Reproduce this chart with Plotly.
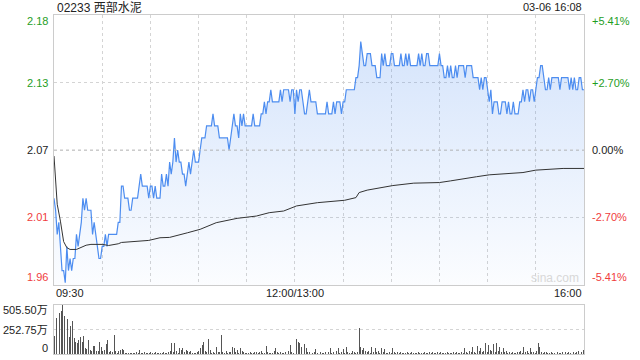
import plotly.graph_objects as go

prev_close = 2.07
title_text = "02233 西部水泥"
time_text = "03-06 16:08"
pct_levels = [5.41, 2.70, 0.00, -2.70, -5.41]
time_labels = ["09:30", "12:00/13:00", "16:00"]
time_label_minutes = [0, 150, 330]

prices = [
    2.03, 2.02, 2.00, 2.01, 1.99, 1.97, 1.97, 1.96, 1.99, 1.97,
    1.98, 1.97, 1.98, 1.98, 2.00, 1.99, 2.00, 2.01, 2.03, 2.02,
    2.03, 2.02, 2.02, 2.02, 2.00, 2.01, 2.00, 1.99, 1.98, 1.98,
    1.99, 1.99, 2.00, 1.99, 2.00, 2.00, 2.00, 2.00, 2.00, 2.00,
    2.01, 2.01, 2.04, 2.04, 2.03, 2.03, 2.03, 2.02, 2.02, 2.03,
    2.03, 2.03, 2.03, 2.04, 2.05, 2.04, 2.04, 2.04, 2.04, 2.03,
    2.04, 2.04, 2.03, 2.04, 2.03, 2.03, 2.03, 2.05, 2.04, 2.04,
    2.05, 2.04, 2.06, 2.05, 2.06, 2.08, 2.06, 2.07, 2.06, 2.06,
    2.05, 2.05, 2.04, 2.05, 2.06, 2.05, 2.06, 2.07, 2.06, 2.06,
    2.06, 2.07, 2.08, 2.08, 2.08, 2.09, 2.09, 2.09, 2.09, 2.10,
    2.09, 2.09, 2.09, 2.08, 2.08, 2.08, 2.08, 2.08, 2.08, 2.07,
    2.08, 2.09, 2.10, 2.09, 2.09, 2.08, 2.10, 2.09, 2.10, 2.09,
    2.09, 2.09, 2.09, 2.09, 2.10, 2.09, 2.09, 2.09, 2.09, 2.10,
    2.10, 2.11, 2.10, 2.11, 2.11, 2.12, 2.11, 2.11, 2.11, 2.11,
    2.11, 2.12, 2.11, 2.12, 2.12, 2.12, 2.12, 2.11, 2.12, 2.12,
    2.10, 2.12, 2.11, 2.12, 2.12, 2.11, 2.10, 2.10, 2.11, 2.12,
    2.11, 2.11, 2.11, 2.11, 2.10, 2.10, 2.10, 2.10, 2.10, 2.10,
    2.11, 2.10, 2.10, 2.10, 2.11, 2.10, 2.11, 2.11, 2.11, 2.10,
    2.11, 2.11, 2.12, 2.12, 2.12, 2.12, 2.12, 2.12, 2.13, 2.13,
    2.14, 2.16, 2.15, 2.14, 2.14, 2.15, 2.15, 2.15, 2.14, 2.14,
    2.14, 2.13, 2.13, 2.13, 2.15, 2.14, 2.15, 2.14, 2.14, 2.14,
    2.15, 2.15, 2.14, 2.14, 2.14, 2.14, 2.15, 2.14, 2.14, 2.15,
    2.14, 2.15, 2.14, 2.14, 2.14, 2.14, 2.14, 2.15, 2.14, 2.15,
    2.14, 2.14, 2.15, 2.15, 2.14, 2.14, 2.14, 2.14, 2.14, 2.14,
    2.15, 2.14, 2.14, 2.13, 2.13, 2.14, 2.13, 2.14, 2.13, 2.13,
    2.14, 2.13, 2.14, 2.14, 2.14, 2.14, 2.13, 2.14, 2.14, 2.14,
    2.14, 2.13, 2.13, 2.13, 2.13, 2.12, 2.13, 2.12, 2.13, 2.13,
    2.12, 2.11, 2.12, 2.10, 2.11, 2.11, 2.11, 2.10, 2.10, 2.11,
    2.11, 2.11, 2.10, 2.11, 2.10, 2.10, 2.11, 2.10, 2.10, 2.10,
    2.11, 2.11, 2.12, 2.11, 2.12, 2.12, 2.11, 2.12, 2.12, 2.11,
    2.12, 2.13, 2.13, 2.14, 2.14, 2.13, 2.12, 2.12, 2.13, 2.12,
    2.13, 2.13, 2.13, 2.13, 2.13, 2.12, 2.13, 2.13, 2.13, 2.13,
    2.13, 2.12, 2.13, 2.12, 2.13, 2.12, 2.12, 2.13, 2.13, 2.12,
    2.12,
]

avg_minutes = [0, 2, 4, 6, 8, 10, 14, 17, 20, 23, 30, 34, 40, 42, 51, 59,
               66, 72, 83, 91, 101, 114, 126, 134, 143, 151, 164, 172, 181,
               188, 190, 195, 203, 211, 224, 240, 247, 255, 263, 271, 284,
               292, 300, 317, 330]
avg_values = [2.065, 2.025, 2.011, 1.994, 1.989, 1.9875, 1.9875, 1.9894,
              1.991, 1.9917, 1.9917, 1.9908, 1.9922, 1.9933, 1.9944, 1.995,
              1.9972, 1.9975, 2.0013, 2.0042, 2.0097, 2.0133, 2.0152, 2.018,
              2.0194, 2.0236, 2.0263, 2.0272, 2.0283, 2.0305, 2.0347, 2.0367,
              2.0389, 2.0405, 2.0425, 2.043, 2.0444, 2.0458, 2.0478, 2.0494,
              2.0505, 2.0513, 2.0533, 2.0547, 2.0547]

volumes = [
    185, 370, 300, 420, 440, 505.5, 390, 380, 365, 180,
    285, 345, 160, 125, 110, 145, 180, 125, 185, 60,
    50, 140, 40, 35, 80, 85, 30, 35, 125, 75,
    30, 40, 100, 145, 25, 30, 20, 195, 30, 15,
    35, 45, 50, 45, 15, 10, 8, 12, 6, 10,
    14, 22, 9, 41, 12, 8, 18, 10, 7, 15,
    20, 9, 12, 25, 8, 14, 10, 6, 18, 11,
    9, 16, 28, 117, 20, 110, 35, 12, 62, 45,
    58, 22, 40, 30, 18, 26, 10, 14, 8, 20,
    35, 65, 93, 127, 30, 20, 151, 41, 15, 25,
    12, 76, 20, 18, 196, 22, 14, 30, 10, 18,
    25, 76, 58, 20, 41, 12, 58, 30, 16, 10,
    8, 14, 20, 12, 9, 16, 25, 12, 18, 30,
    10, 15, 82, 20, 12, 9, 14, 30, 58, 16,
    10, 22, 14, 8, 18, 25, 35, 93, 20, 12,
    40, 151, 127, 110, 76, 30, 103, 58, 20, 16,
    41, 12, 20, 48, 15, 10, 22, 8, 14, 18,
    12, 25, 58, 14, 20, 9, 30, 58, 15, 22,
    48, 12, 76, 20, 10, 14, 30, 18, 12, 25,
    265, 76, 40, 58, 30, 20, 35, 14, 76, 25,
    58, 18, 30, 12, 58, 20, 48, 15, 10, 22,
    14, 58, 20, 12, 25, 9, 16, 10, 14, 8,
    20, 12, 9, 18, 10, 15, 8, 22, 12, 9,
    14, 20, 10, 8, 16, 12, 25, 9, 14, 18,
    10, 22, 12, 8, 15, 20, 9, 14, 11, 18,
    12, 20, 9, 15, 25, 14, 58, 20, 12, 30,
    18, 76, 25, 14, 82, 30, 58, 20, 35, 110,
    25, 93, 40, 30, 103, 20, 117, 35, 76, 22,
    58, 18, 30, 14, 22, 12, 20, 9, 15, 25,
    18, 30, 14, 76, 20, 35, 12, 58, 18, 25,
    14, 30, 117, 76, 20, 12, 18, 25, 10, 15,
    20, 12, 9, 16, 25, 10, 14, 20, 8, 18,
    12, 25, 10, 14, 20, 9, 16, 30, 34, 18,
    41,
]

minutes = list(range(len(prices)))
vol_minutes = list(range(len(volumes)))
total_minutes = 330

# ---- layout geometry (pixels) ----
W, H = 640, 360
L, R = 54, 584
MT, MB = 15, 285
VT, VB = 305, 354


def fx(p):
    return p / W


def fy(p):
    return 1 - p / H


FONT = "Liberation Sans, Arial, Helvetica, sans-serif"
GREEN = "#1f9e1f"
RED = "#f03c3c"
DARK = "#222222"
BORDER = "#cccccc"
GRID = "#d4d4d4"

ymin = prev_close * (1 - pct_levels[0] / 100)
ymax = prev_close * (1 + pct_levels[0] / 100)
level_prices = [prev_close * (1 + p / 100) for p in pct_levels]

vmax = max(volumes)
vol_ticks = [vmax, vmax / 2, 0]

fig = go.Figure()

fig.add_trace(go.Scatter(
    x=minutes, y=prices, mode="lines",
    line=dict(color="#4d8df0", width=1.2),
    fill="tozeroy",
    fillgradient=dict(
        type="vertical",
        colorscale=[[0, "rgba(77,141,240,0.02)"], [1, "rgba(77,141,240,0.26)"]],
        start=ymin, stop=ymax,
    ),
    xaxis="x", yaxis="y", hoverinfo="skip",
))

fig.add_trace(go.Scatter(
    x=avg_minutes, y=avg_values, mode="lines",
    line=dict(color="#333333", width=1),
    xaxis="x", yaxis="y", hoverinfo="skip",
))

fig.add_trace(go.Bar(
    x=vol_minutes, y=volumes,
    marker=dict(color="#555555", line=dict(width=0)),
    width=0.6,
    xaxis="x2", yaxis="y2", hoverinfo="skip",
))

annotations = []
# price labels (left) and percentage labels (right)
for i, (p, lp) in enumerate(zip(pct_levels, level_prices)):
    col = GREEN if p > 0 else (RED if p < 0 else DARK)
    shift = 0
    if i == 0:
        shift = -6
    elif i == len(pct_levels) - 1:
        shift = 8
    annotations.append(dict(
        x=fx(L - 4), y=lp, xref="paper", yref="y",
        text=f"{lp:.2f}", showarrow=False, xanchor="right", yanchor="middle",
        yshift=shift, font=dict(family=FONT, size=11, color=col),
    ))
    sign = "+" if p > 0 else ""
    annotations.append(dict(
        x=fx(R + 6), y=lp, xref="paper", yref="y",
        text=f"{sign}{p:.2f}%", showarrow=False, xanchor="left", yanchor="middle",
        yshift=shift, font=dict(family=FONT, size=11, color=col),
    ))

# time labels
anchors = ["left", "center", "right"]
for t, m, a in zip(time_labels, time_label_minutes, anchors):
    annotations.append(dict(
        x=m, y=fy(293), xref="x", yref="paper", text=t, showarrow=False,
        xanchor=a, yanchor="middle", font=dict(family=FONT, size=11, color=DARK),
    ))

# volume labels
vol_label_text = [f"{vol_ticks[0]:.2f}万", f"{vol_ticks[1]:.2f}万", "0"]
vol_shift = [-5, 0, 6]
for v, t, s in zip(vol_ticks, vol_label_text, vol_shift):
    annotations.append(dict(
        x=fx(L - 4), y=v, xref="paper", yref="y2", text=t, showarrow=False,
        xanchor="right", yanchor="middle", yshift=s,
        font=dict(family=FONT + ", Noto Sans CJK SC", size=11, color=DARK),
    ))

# title and time stamp
annotations.append(dict(
    x=fx(L + 1), y=fy(7), xref="paper", yref="paper", text=title_text,
    showarrow=False, xanchor="left", yanchor="middle",
    font=dict(family="Liberation Sans, Noto Sans CJK SC, sans-serif", size=12, color=DARK),
))
annotations.append(dict(
    x=fx(R), y=fy(7), xref="paper", yref="paper", text=time_text,
    showarrow=False, xanchor="right", yanchor="middle",
    font=dict(family=FONT, size=11, color=DARK),
))
# watermark
annotations.append(dict(
    x=fx(R - 3), y=fy(278), xref="paper", yref="paper", text="sina.com",
    showarrow=False, xanchor="right", yanchor="middle",
    font=dict(family=FONT, size=12, color="#d8d8d8"),
))

shapes = [dict(
    type="line", xref="paper", yref="y", x0=fx(L), x1=fx(R),
    y0=prev_close, y1=prev_close, layer="above",
    line=dict(color="#c4c4c4", width=1, dash="3px,3px"),
)]

axis_common = dict(showline=True, mirror=True, linecolor=BORDER, linewidth=1,
                   zeroline=False, ticks="", showticklabels=False, fixedrange=True)

fig.update_layout(
    width=W, height=H,
    margin=dict(l=0, r=0, t=0, b=0),
    paper_bgcolor="white", plot_bgcolor="white",
    showlegend=False,
    bargap=0,
    xaxis=dict(domain=[fx(L), fx(R)], range=[0, total_minutes],
               tickvals=list(range(0, total_minutes + 1, 30)),
               showgrid=True, gridcolor=GRID, griddash="dot", gridwidth=1,
               anchor="y", **axis_common),
    yaxis=dict(domain=[fy(MB), fy(MT)], range=[ymin, ymax],
               tickvals=level_prices, showgrid=True, gridcolor=GRID,
               griddash="dot", gridwidth=1, anchor="x", **axis_common),
    xaxis2=dict(domain=[fx(L), fx(R)], range=[-0.5, total_minutes + 0.5],
                showgrid=False, anchor="y2", **axis_common),
    yaxis2=dict(domain=[fy(VB), fy(VT)], range=[0, vmax],
                tickvals=[vmax / 2], showgrid=True, gridcolor=GRID,
                griddash="dot", gridwidth=1, anchor="x2", **axis_common),
    annotations=annotations,
    shapes=shapes,
)

fig.write_html("out.html", config={"displayModeBar": False, "staticPlot": True})
